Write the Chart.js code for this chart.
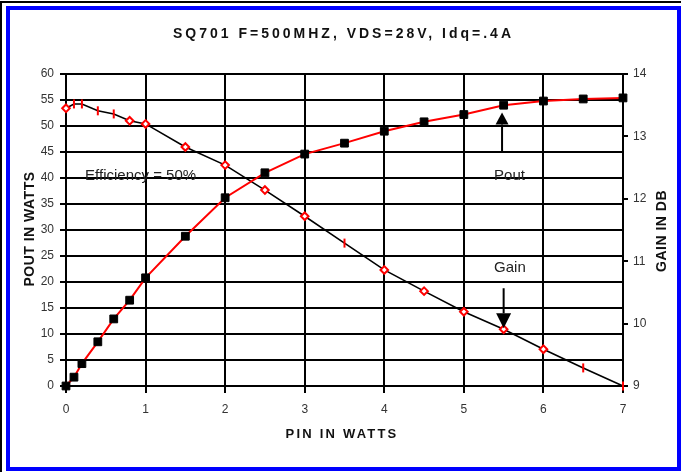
<!DOCTYPE html>
<html>
<head>
<meta charset="utf-8">
<title>SQ701 Pout / Gain</title>
<script src="https://cdn.jsdelivr.net/npm/chart.js@4.4.1/dist/chart.umd.min.js"></script>
<style>
  html, body { margin: 0; padding: 0; background: #fff; }
  #wrap { position: relative; width: 681px; height: 472px; overflow: hidden; }
  #chart { position: absolute; left: 0; top: 0; }
  .edge { position: absolute; pointer-events: none; box-sizing: border-box; }
  #black { left: 0; top: 1px; width: 720px; height: 520px; border-left: 2px solid #000; border-top: 2px solid #000; }
  #blue { left: 6px; top: 6px; width: 675px; height: 465px; border: 4px solid #0000ff; }
</style>
</head>
<body>
<div id="wrap">
  <canvas id="chart" width="681" height="472"></canvas>
  <div class="edge" id="black"></div>
  <div class="edge" id="blue"></div>
</div>
<script>
// values
const TITLE = 'SQ701 F=500MHZ, VDS=28V, Idq=.4A';
const PIN = [0, 0.1, 0.2, 0.4, 0.6, 0.8, 1, 1.5, 2, 2.5, 3, 3.5, 4, 4.5, 5, 5.5, 6, 6.5, 7];
const POUT = [0, 1.7, 4.3, 8.5, 12.9, 16.5, 20.8, 28.8, 36.2, 41, 44.6, 46.7, 49, 50.8, 52.2, 54, 54.8, 55.2, 55.4];
const GAIN = [13.45, 13.52, 13.52, 13.41, 13.36, 13.25, 13.2, 12.83, 12.54, 12.14, 11.72, 11.29, 10.86, 10.52, 10.19, 9.91, 9.59, 9.29, 9.0];

// gain points that show up as short red dashes instead of diamonds
const DASH_AT = [1, 2, 3, 4, 11, 17, 18];

const TICK_FONT = { family: '"Liberation Sans", Arial, sans-serif', size: 12 };
const TEXT_FAMILY = '"Liberation Sans", Arial, sans-serif';

function arrow(ctx, x, y0, y1, head, half) {
  // shaft from y0 to the head base, filled triangle to the tip y1
  const dir = y1 > y0 ? 1 : -1;
  ctx.beginPath();
  ctx.moveTo(x, y0);
  ctx.lineTo(x, y1 - dir * head);
  ctx.stroke();
  ctx.beginPath();
  ctx.moveTo(x - half, y1 - dir * head);
  ctx.lineTo(x + half, y1 - dir * head);
  ctx.lineTo(x, y1);
  ctx.closePath();
  ctx.fill();
}

const decor = {
  id: 'decor',
  afterDraw(chart, args, opts) {
    const { ctx, scales: { x, y } } = chart;
    ctx.save();

    // chart title
    ctx.fillStyle = '#111';
    ctx.textAlign = 'center';
    ctx.textBaseline = 'middle';
    ctx.font = 'bold 14px ' + TEXT_FAMILY;
    ctx.letterSpacing = '3px';
    ctx.fillText(TITLE, 343.5, 34);

    // bottom axis title
    ctx.font = 'bold 13px ' + TEXT_FAMILY;
    ctx.letterSpacing = '2.2px';
    ctx.fillText('PIN IN WATTS', 342, 434);

    // vertical axis titles, both read bottom to top
    ctx.font = 'bold 14px ' + TEXT_FAMILY;
    ctx.letterSpacing = '0.5px';
    [['POUT IN WATTS', 30, 229], ['GAIN IN DB', 662, 231]].forEach(([t, cx, cy]) => {
      ctx.save();
      ctx.translate(cx, cy);
      ctx.rotate(-Math.PI / 2);
      ctx.fillText(t, 0, 0);
      ctx.restore();
    });

    // notes inside the plot
    ctx.letterSpacing = '0px';
    ctx.textAlign = 'left';
    ctx.textBaseline = 'alphabetic';
    ctx.font = '15px ' + TEXT_FAMILY;
    ctx.fillStyle = '#222';
    opts.notes.forEach(n => {
      ctx.fillText(n.text, x.getPixelForValue(n.x), y.getPixelForValue(n.y));
    });

    ctx.strokeStyle = '#000';
    ctx.fillStyle = '#000';
    ctx.lineWidth = 2;
    opts.arrows.forEach(a => {
      arrow(ctx, x.getPixelForValue(a.x), y.getPixelForValue(a.from), y.getPixelForValue(a.to), a.head, a.half);
    });

    ctx.restore();
  }
};

new Chart(document.getElementById('chart'), {
  type: 'line',
  data: {
    datasets: [
      {
        label: 'Pout',
        data: PIN.map((p, i) => ({ x: p, y: POUT[i] })),
        yAxisID: 'y',
        borderColor: '#ff0000',
        borderWidth: 2,
        pointStyle: 'rect',
        pointRadius: 5.5,
        pointBackgroundColor: '#000',
        pointBorderColor: '#000',
        pointBorderWidth: 1,
        tension: 0,
        clip: false,
      },
      {
        label: 'Gain',
        data: PIN.map((p, i) => ({ x: p, y: GAIN[i] })),
        yAxisID: 'y1',
        borderColor: '#000',
        borderWidth: 1.6,
        pointStyle: (c) => DASH_AT.includes(c.dataIndex) ? 'line' : 'rectRot',
        rotation: (c) => DASH_AT.includes(c.dataIndex) ? 90 : 0,
        pointRadius: (c) => DASH_AT.includes(c.dataIndex) ? 4.5 : 3.8,
        pointBackgroundColor: '#fff',
        pointBorderColor: '#ff0000',
        pointBorderWidth: 2,
        tension: 0,
        clip: false,
      },
    ],
  },
  options: {
    responsive: false,
    animation: false,
    layout: { padding: { top: 74, left: 0, right: 0, bottom: 0 } },
    plugins: {
      legend: { display: false },
      tooltip: { enabled: false },
      decor: {
        notes: [
          { text: 'Efficiency = 50%', x: 0.24, y: 39.6 },
          { text: 'Pout', x: 5.38, y: 39.6 },
          { text: 'Gain', x: 5.38, y: 21.9 },
        ],
        arrows: [
          { x: 5.48, from: 45, to: 52.6, head: 12, half: 6.5 },
          { x: 5.5, from: 18.8, to: 11.1, head: 15, half: 7.5 },
        ],
      },
    },
    scales: {
      x: {
        type: 'linear',
        min: 0,
        max: 7,
        ticks: { stepSize: 1, color: '#333', font: TICK_FONT, padding: 9 },
        grid: { color: '#000', lineWidth: 2, tickLength: 7 },
        border: { color: '#000', width: 2 },
        afterFit: (s) => { s.height = 86; },
      },
      y: {
        position: 'left',
        min: 0,
        max: 60,
        ticks: { stepSize: 5, color: '#333', font: TICK_FONT, padding: 6 },
        grid: { color: '#000', lineWidth: 2, tickLength: 6 },
        border: { color: '#000', width: 2 },
        afterFit: (s) => { s.width = 66; },
      },
      y1: {
        position: 'right',
        min: 9,
        max: 14,
        ticks: { stepSize: 1, color: '#333', font: TICK_FONT, padding: 5 },
        grid: { drawOnChartArea: false, color: '#000', lineWidth: 2, tickLength: 5 },
        border: { color: '#000', width: 2 },
        afterFit: (s) => { s.width = 58; },
      },
    },
  },
  plugins: [decor],
});
</script>
</body>
</html>
